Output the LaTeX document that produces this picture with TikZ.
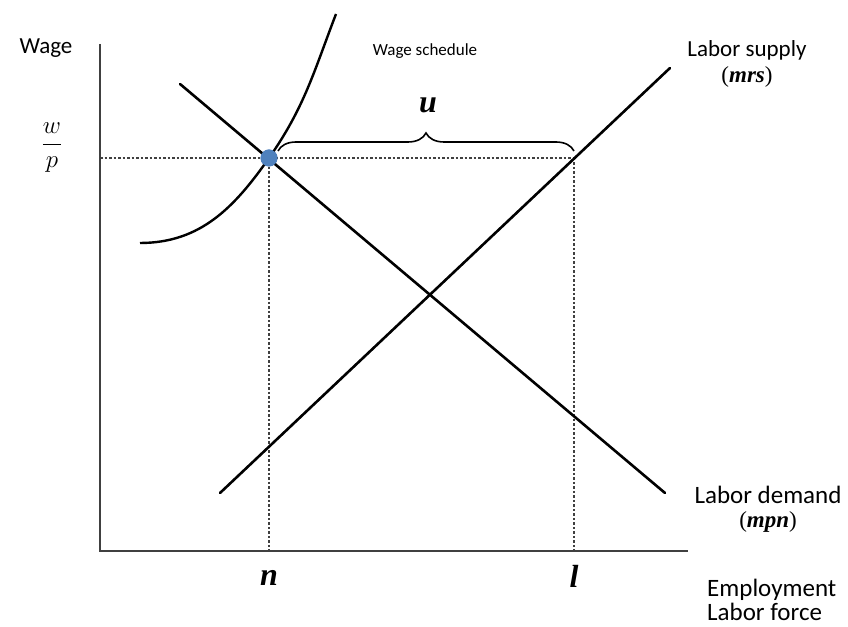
\documentclass[tikz,border=0pt]{standalone}
\usepackage{amsmath}
\usepackage{fontspec}
\setmainfont{Carlito}
\newfontfamily\tnrfont{Liberation Serif}
\usepackage{xcolor}
\usetikzlibrary{positioning, decorations.pathreplacing}
\definecolor{dotblue}{RGB}{79,129,189}

\begin{document}
\begin{tikzpicture}[x=1pt, y=1pt,
    lbl/.style={font=\fontsize{23}{26}\selectfont, inner sep=1pt},
    biglbl/.style={font=\fontsize{25}{28}\selectfont, inner sep=1pt},
    small/.style={font=\fontsize{17}{20}\selectfont, inner sep=1pt},
    var/.style={font=\fontsize{32}{34}\selectfont\tnrfont\bfseries\itshape, inner sep=1pt},
    sub/.style={font=\fontsize{23}{25}\selectfont\tnrfont, inner sep=1pt},
    axis/.style={line width=2.6pt, draw=black!75},
    market/.style={line width=2.6pt, line cap=round},
    guide/.style={line width=2pt, draw=black!75, dash pattern=on 2.5pt off 2pt},
    dot/.style={circle, fill=dotblue, minimum size=17pt, inner sep=0pt}
]
\useasboundingbox (0,0) rectangle (848,626);

% axes
\coordinate (O) at (100,75);
\coordinate (ytop) at (100,582);
\coordinate (xend) at (688,75);
\draw[axis] (ytop) -- (O) -- (xend);

% unemployment guides
\coordinate (wp) at (100,468);
\coordinate (lsup) at (574,468);
\coordinate (nfoot) at (269,75);
\coordinate (lfoot) at (574,75);
\node[dot] (eq) at (269,468) {};
\draw[guide] (wp) -- (lsup);
\draw[guide] (eq.center) -- (nfoot);
\draw[guide] (lsup) -- (lfoot);

% labor demand and supply
\coordinate (d0) at (180,542);
\coordinate (d1) at (665,133);
\coordinate (s0) at (220,133);
\coordinate (s1) at (670,558);
\draw[market] (d0) -- (d1);
\draw[market] (s0) -- (s1);

% wage schedule
\coordinate (ws0) at (140,383);
\coordinate (ws1) at (336,612);
\draw[line width=2.4pt] (ws0) to[out=0, in=235] (eq.center) to[out=55, in=249] (ws1);
\node[dot] at (eq) {};

% brace for u
\coordinate (b0) at (278,475);
\coordinate (b1) at (574,475);
\draw[line width=1.6pt, decorate, decoration={brace, amplitude=18pt}] (b0) -- (b1);

% labels
\node[lbl] (wage) at (46,578) {Wage};
\node[font=\fontsize{27}{30}\selectfont] (wfrac) at (52,478) {$\dfrac{w}{p}$};
\node[small] (sched) at (425,575) {Wage schedule};
\node[var] (ulbl) at (428,521) {u};
\node[lbl] (supply) at (747,576) {Labor supply};
\node[sub, below=4pt of supply] (mrs) {(\textbf{\textit{mrs}})};
\node[biglbl] (demand) at (768,131) {Labor demand};
\node[sub, below=5pt of demand] (mpn) {(\textbf{\textit{mpn}})};
\node[biglbl, anchor=west] (emp) at (706,36) {Employment};
\node[biglbl, below=0pt of emp.south west, anchor=north west] (force) {Labor force};
\node[var] (nlbl) at (269,48) {n};
\node[var] (llbl) at (574,50) {l};
\end{tikzpicture}
\end{document}
